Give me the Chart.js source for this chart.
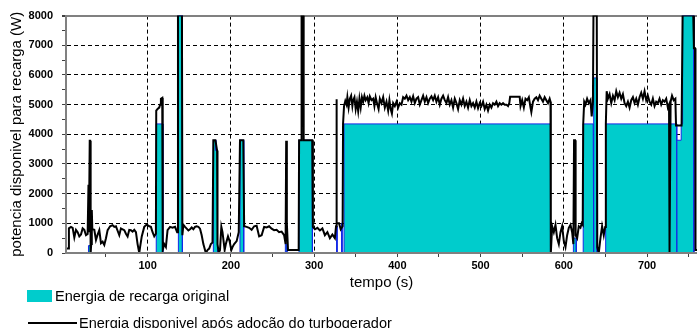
<!DOCTYPE html>
<html>
<head>
<meta charset="utf-8">
<script src="https://cdn.jsdelivr.net/npm/chart.js@4/dist/chart.umd.min.js"></script>
<style>
  html, body { margin: 0; padding: 0; background: #fff; overflow: hidden; }
  #wrap { position: relative; width: 697px; height: 328px; }
  #grafico { position: absolute; left: 0; top: 0; }
  .leg-item { position: absolute; font: 14.5px "Liberation Sans", Arial, sans-serif; color: #000; white-space: nowrap; line-height: 16px; }
  .leg-box { position: absolute; }
</style>
</head>
<body>
<div id="wrap">
  <canvas id="grafico" width="697" height="328"></canvas>
  <div id="legenda"></div>
</div>
<script>
// Potência disponível após adoção do turbogerador (W) ao longo do tempo (s)
const tempoDisp = [
  0, 4.5, 5.5, 8, 10, 12, 14, 16, 18, 20,
  22, 24, 26, 28, 29, 29.5, 30.5, 31, 31.6, 32.3,
  33, 33.6, 36, 38, 40, 42, 44, 46, 48, 50,
  52, 55, 58, 60, 62, 64, 66, 68, 70, 72,
  74, 76, 78, 80, 82, 84, 86, 88, 90, 91,
  93, 96, 99, 102, 104, 106, 108, 110, 110.4, 112,
  114, 115, 116, 117.6, 118, 118.4, 120, 122, 124, 127,
  130, 133, 135.5, 136.5, 141.3, 141.8, 143, 145, 147, 149,
  151, 153, 155, 157, 159, 161, 163, 165, 167, 170,
  172, 174, 176, 178, 179, 181.5, 183.5, 184, 185.5, 187,
  188.6, 190, 192.6, 194, 196.6, 198.5, 200.6, 202, 204, 207,
  209.5, 211, 215, 216, 219, 222, 225, 228, 231, 234,
  237, 240, 243, 246, 249, 252, 255, 258, 261, 264,
  265.8, 266.5, 267.3, 268.7, 275, 281.5, 282, 284.5, 285, 287,
  287.5, 297.8, 298.6, 301, 304, 307, 310, 313, 316, 319,
  322, 325, 326.4, 326.8, 327.4, 330, 332, 334.3, 334.8, 336,
  337.5, 339, 340, 341.5, 343, 344.5, 346, 347, 348.5, 350,
  351.5, 353, 354.5, 356, 357.5, 359, 360.5, 362, 364, 365.5,
  367, 369, 371, 372.5, 374, 376, 377.5, 379, 381, 383,
  385, 387, 389, 390.5, 392, 393.5, 395, 397, 399, 401,
  403, 405, 407, 409, 411, 413, 415, 417, 419, 421,
  423, 425, 427, 429, 431, 433, 435, 437, 439, 441,
  443, 445, 447, 449, 451, 453, 455, 457, 459, 461,
  463, 465, 467, 469, 471, 473, 475, 477, 479, 481,
  483, 485, 487, 489, 491, 493, 495, 497, 499, 501,
  503, 505, 507, 509, 511, 513, 515, 517, 519, 521,
  523, 525, 527, 529, 531, 533, 534.5, 535.5, 547, 548,
  550, 552, 554, 556, 558, 560, 561, 563, 565, 567,
  569, 571, 573, 575, 577, 579, 581, 583, 584, 584.4,
  586, 588, 590, 592, 594, 596, 598, 600, 602, 604,
  606, 608, 610, 611.5, 612.3, 613.5, 614.2, 616, 618, 620,
  621.5, 622.7, 623.3, 624.5, 626, 628, 630, 632, 633.5, 635,
  635.6, 639.6, 640.2, 642, 644, 646, 648, 649.7, 650.5, 651.5,
  653, 655, 657, 659, 661, 663, 665, 667, 669, 671,
  673, 675, 677, 679, 681, 683, 685, 687, 689, 691,
  693, 695, 697, 699, 701, 703, 705, 707, 709, 711,
  713, 715, 717, 719, 721, 723, 725, 726.4, 727, 728.3,
  730, 732, 734, 734.8, 741.5, 742.7, 755.5, 756.3, 757.6, 758.2,
  760
];
const potDisp = [
  150, 150, 830, 880, 850, 520, 780, 700, 560, 620,
  830, 780, 600, 640, 2300, 700, 3780, 3780, 0, 300,
  1450, 800, 780, 440, 620, 770, 330, 380, 270, 500,
  770, 900, 940, 880, 900, 750, 600, 830, 800, 770,
  650, 560, 780, 770, 720, 780, 700, 300, 0, 200,
  560, 880, 960, 900, 880, 700, 560, 650, 4800, 4850,
  4900, 5000, 5200, 5230, 4560, 100, 300, 200, 770, 880,
  850, 880, 700, 8000, 8000, 600, 950, 880, 820, 760,
  800, 860, 800, 880, 900, 880, 820, 600, 300, 0,
  100, 150, 300, 350, 3800, 3800, 3450, 300, 0, 100,
  880, 700, 100, 300, 560, 400, 100, 200, 300, 400,
  700, 3800, 3800, 900, 880, 850, 780, 900, 920, 560,
  600, 880, 860, 900, 820, 770, 780, 700, 720, 600,
  300, 3780, 1000, 100, 100, 100, 3800, 3800, 8000, 8000,
  3800, 3800, 880, 800, 850, 760, 830, 600, 700, 500,
  620, 500, 900, 5180, 1000, 1000, 800, 900, 4350, 4950,
  5120, 5000, 5250, 4900, 5200, 5300, 4950, 5150, 5250, 4850,
  5100, 4780, 5200, 4900, 5250, 5100, 5300, 5150, 5250, 5050,
  5280, 5150, 5200, 4950, 5250, 5000, 4850, 5200, 5050, 5250,
  4900, 5100, 4800, 5150, 4850, 4700, 5050, 4950, 5100, 4900,
  5050, 5000, 5250, 5200, 5300, 5150, 5250, 5100, 5280, 5050,
  5200, 5250, 5000, 5150, 5300, 5100, 5250, 5050, 5200, 5280,
  5150, 5300, 5100, 5250, 5000, 5200, 5300, 5150, 5050, 5250,
  5000, 5150, 4900, 5200, 5050, 4850, 5150, 5000, 5200, 4950,
  5100, 4900, 5150, 4950, 5050, 4900, 5100, 4880, 5050, 4950,
  5100, 4850, 5000, 4800, 5000, 4900, 5050, 5000, 5100, 4950,
  5050, 5000, 5050, 5000, 5000, 4950, 5050, 5265, 5265, 4950,
  5150, 4900, 5200, 5150, 5250, 4900, 4750, 5100, 5200, 5250,
  5150, 5300, 5200, 5100, 5250, 5150, 5050, 5200, 5100, 0,
  900, 700, 950, 500, 300, 700, 900, 400, 200, 600,
  850, 950, 700, 300, 3800, 3800, 600, 500, 900, 850,
  1000, 950, 4350, 5100, 5000, 5200, 5050, 5150, 4600, 5100,
  8000, 8000, 200, 0, 500, 900, 600, 880, 4350, 5450,
  5200, 5350, 5050, 5300, 5150, 5450, 5250, 5400, 5200, 5350,
  5050, 4950, 5100, 4900, 5150, 5250, 5050, 5200, 5000, 5250,
  5400, 5200, 5450, 5150, 5300, 5100, 5000, 5200, 4950, 5100,
  5050, 5200, 5000, 5150, 5100, 5200, 4900, 5000, 0, 5100,
  5300, 5150, 5200, 4300, 4300, 8000, 8000, 6900, 6900, 100,
  100
];

// Energia de recarga original (W): blocos retangulares
const tempoRecarga = [
  2, 29, 29, 31.5, 31.5, 110.4, 110.4, 118.4, 118.4, 137,
  137, 141.8, 141.8, 179, 179, 182, 182, 184, 184, 211,
  211, 215.5, 215.5, 265.5, 265.5, 267.5, 267.5, 281.9, 281.9, 298,
  298, 327, 327, 327.6, 327.6, 333, 333, 333.6, 333.6, 336,
  336, 584, 584, 611.5, 611.5, 615, 615, 623.3, 623.3, 635.3,
  635.3, 636.2, 636.2, 640, 640, 650.3, 650.3, 735.5, 735.5, 735.9,
  735.9, 741, 741, 742.7, 742.7, 756.3, 756.3, 760
];
const potRecarga = [
  0, 0, 250, 250, 0, 0, 4350, 4350, 0, 0,
  8000, 8000, 0, 0, 3800, 3800, 3450, 3450, 0, 0,
  3800, 3800, 0, 0, 300, 300, 0, 0, 3800, 3800,
  0, 0, 900, 900, 0, 0, 1000, 1000, 0, 0,
  4350, 4350, 0, 0, 500, 500, 0, 0, 4350, 4350,
  0, 0, 5900, 5900, 0, 0, 4350, 4350, 0, 0,
  3800, 3800, 4350, 4350, 8000, 8000, 0, 0
];

// Marcas dos eixos
const marcasX = [50, 100, 150, 200, 250, 300, 350, 400, 450, 500, 550, 600, 650, 700, 750];
const rotulosX = [100, 200, 300, 400, 500, 600, 700];
const marcasY = [0, 500, 1000, 1500, 2000, 2500, 3000, 3500, 4000, 4500, 5000, 5500, 6000, 6500, 7000, 7500, 8000];
const rotulosY = [0, 1000, 2000, 3000, 4000, 5000, 6000, 7000, 8000];

const TEAL = 'rgb(0,204,204)';
const FONTE = '"Liberation Sans", Arial, sans-serif';

const pontos = (xs, ys) => xs.map((x, i) => ({ x: x, y: ys[i] }));

const grafico = new Chart(document.getElementById('grafico'), {
  type: 'line',
  data: {
    datasets: [
      {
        label: 'Energia de recarga original',
        data: pontos(tempoRecarga, potRecarga),
        borderColor: '#1428e6',
        borderWidth: 1,
        backgroundColor: TEAL,
        fill: 'origin',
        pointRadius: 0,
        tension: 0,
        order: 2
      },
      {
        label: 'Energia disponivel após adoção do turbogerador',
        data: pontos(tempoDisp, potDisp),
        borderColor: '#000',
        borderWidth: 2,
        fill: false,
        pointRadius: 0,
        tension: 0,
        order: 1
      }
    ]
  },
  options: {
    responsive: false,
    animation: false,
    devicePixelRatio: 1,
    layout: { padding: { top: 14, right: 0, bottom: 36, left: 0 } },
    plugins: { legend: { display: false }, tooltip: { enabled: false } },
    scales: {
      x: {
        type: 'linear',
        min: 2,
        max: 760,
        afterBuildTicks: s => { s.ticks = marcasX.map(v => ({ value: v })); },
        afterFit: s => { s.height = 39; },
        ticks: {
          autoSkip: false,
          maxRotation: 0,
          padding: 2,
          color: '#000',
          font: { family: FONTE, size: 11, weight: 'bold' },
          callback: v => rotulosX.includes(v) ? String(v) : ''
        },
        grid: {
          color: c => (c.tick && rotulosX.includes(c.tick.value)) ? '#000' : 'rgba(0,0,0,0)',
          lineWidth: 1,
          tickColor: '#404040',
          tickLength: 4
        },
        border: { display: true, color: '#808080', width: 2, dash: [4, 3], z: 1 },
        title: {
          display: true,
          text: 'tempo (s)',
          color: '#000',
          font: { family: FONTE, size: 15 },
          padding: { top: 0, bottom: 0 }
        }
      },
      y: {
        type: 'linear',
        min: 0,
        max: 8000,
        afterBuildTicks: s => { s.ticks = marcasY.map(v => ({ value: v })); },
        afterFit: s => { s.width = 66; },
        ticks: {
          autoSkip: false,
          padding: 9,
          color: '#000',
          font: { family: FONTE, size: 11, weight: 'bold' },
          callback: v => rotulosY.includes(v) ? String(v) : ''
        },
        grid: {
          color: c => {
            if (!c.tick) return 'rgba(0,0,0,0)';
            if (c.tick.value === 8000) return '#808080';
            return (c.tick.value > 0 && c.tick.value % 1000 === 0) ? '#000' : 'rgba(0,0,0,0)';
          },
          lineWidth: c => (c.tick && c.tick.value === 8000) ? 2 : 1,
          tickColor: '#404040',
          tickLength: 4
        },
        border: {
          display: true, color: '#808080', width: 2, z: 1,
          dash: c => (c.tick && c.tick.value === 8000) ? [] : [4, 3]
        },
        title: {
          display: true,
          text: 'potencia disponivel para recarga (W)',
          color: '#000',
          font: { family: FONTE, size: 15 },
          padding: { top: 8, bottom: 0 }
        }
      }
    }
  }
});

// Legenda empilhada abaixo do gráfico
(function () {
  const leg = document.getElementById('legenda');
  const ds = grafico.data.datasets;
  const caixa = document.createElement('div');
  caixa.className = 'leg-box';
  Object.assign(caixa.style, { left: '27px', top: '290px', width: '25px', height: '12px', background: ds[0].backgroundColor });
  leg.appendChild(caixa);
  const t1 = document.createElement('div');
  t1.className = 'leg-item';
  t1.textContent = ds[0].label;
  Object.assign(t1.style, { left: '55px', top: '288px' });
  leg.appendChild(t1);
  const linha = document.createElement('div');
  linha.className = 'leg-box';
  Object.assign(linha.style, { left: '28px', top: '322px', width: '49px', height: '2px', background: ds[1].borderColor });
  leg.appendChild(linha);
  const t2 = document.createElement('div');
  t2.className = 'leg-item';
  t2.textContent = ds[1].label;
  Object.assign(t2.style, { left: '79px', top: '315px' });
  leg.appendChild(t2);
})();
</script>
</body>
</html>
